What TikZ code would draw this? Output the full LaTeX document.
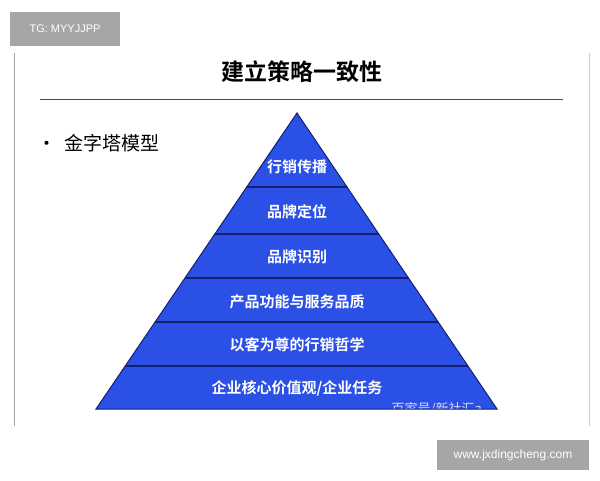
\documentclass[tikz,border=0pt]{standalone}
\usepackage{fontspec}
\setmainfont{Liberation Sans}
\newfontfamily\cjk{Noto Sans CJK SC}
\newfontfamily\cjkb{Noto Sans CJK SC Bold}
\definecolor{pyr}{HTML}{2B50E6}
\definecolor{edge}{HTML}{14206E}
\definecolor{tag}{HTML}{A6A6A6}
\begin{document}
\begin{tikzpicture}[x=1pt,y=-1pt,
  lbl/.style={text=white,font=\cjkb\fontsize{15}{15}\selectfont},
  tagbox/.style={fill=tag,text=white,inner sep=0pt,font=\fontsize{11}{11}\selectfont}]
\useasboundingbox (0,0) rectangle (600,480);
\fill[white] (0,0) rectangle (600,480);
\node[tagbox,minimum width=110pt,minimum height=34pt] (tg) at (65,29) {TG: MYYJJPP};
\draw[gray!70,line width=1pt] (14,53) -- (14,426);
\draw[gray!40,line width=1pt] (589,53) -- (589,426);
\node[font=\cjkb\fontsize{23}{23}\selectfont] (title) at (302,72) {建立策略一致性};
\draw[black!70,line width=1pt] (40,99) -- (563,99);
\node[anchor=west,font=\cjk\fontsize{19}{19}\selectfont] (bullet) at (34,143) {•\hspace{8pt}金字塔模型};
\coordinate (apex) at (297,113);
\coordinate (bl) at (96,409);
\coordinate (br) at (497,409);
\fill[pyr] (apex) -- (bl) -- (br) -- cycle;
\begin{scope}
\clip (apex) -- (bl) -- (br) -- cycle;
\foreach \y in {187,234,278,322,366} \draw[edge,line width=1.2pt] (90,\y) -- (510,\y);
\node[text=white!80!pyr,font=\cjk\fontsize{13}{13}\selectfont,anchor=west] (wm) at (388,409) {百家号/新社汇a};
\end{scope}
\draw[edge,line width=1pt] (apex) -- (bl) -- (br) -- cycle;
\node[lbl] (l1) at (297,167) {行销传播};
\node[lbl] (l2) at (297,212) {品牌定位};
\node[lbl] (l3) at (297,257) {品牌识别};
\node[lbl] (l4) at (297,302) {产品功能与服务品质};
\node[lbl] (l5) at (297,345) {以客为尊的行销哲学};
\node[lbl] (l6) at (297,388) {企业核心价值观/企业任务};
\node[tagbox,minimum width=152pt,minimum height=30pt,font=\fontsize{12}{12}\selectfont] (url) at (513,455) {www.jxdingcheng.com};
\end{tikzpicture}
\end{document}
